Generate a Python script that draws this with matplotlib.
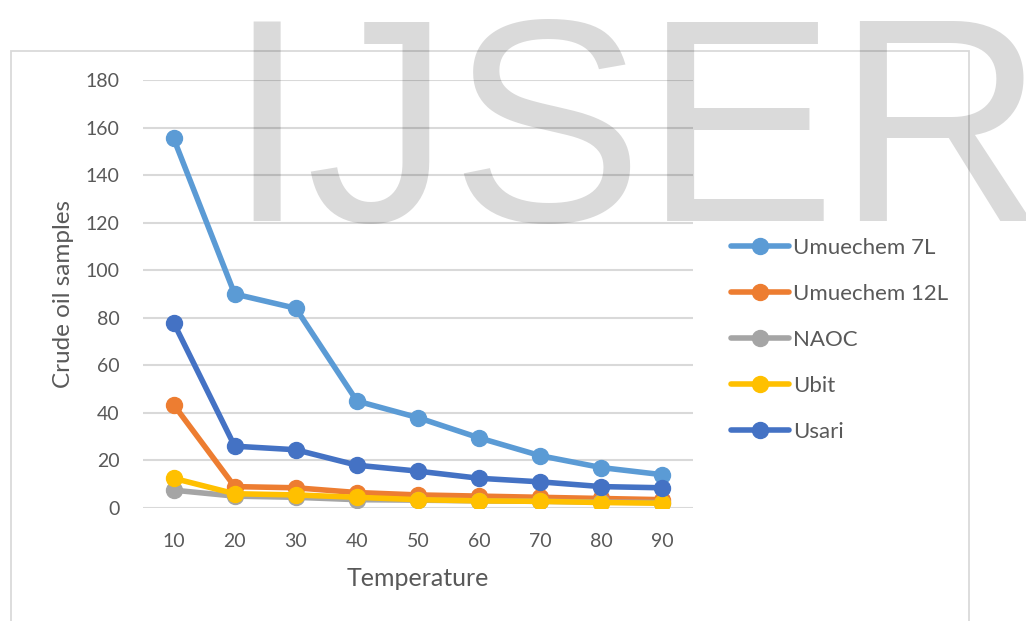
import matplotlib
matplotlib.use("Agg")
import matplotlib.pyplot as plt
from matplotlib.patches import Rectangle
import numpy as np

temperatures = [10, 20, 30, 40, 50, 60, 70, 80, 90]
umuechem_7l = [155.5, 90, 84, 45, 38, 29.5, 22, 17, 14]
umuechem_12l = [43.5, 9, 8.5, 6.5, 5.5, 5, 4.5, 4, 3.5]
naoc = [7.5, 5, 4.5, 3.5, 3.3, 3, 2.8, 2.5, 2.3]
ubit = [12.5, 6, 5.5, 4.5, 3.5, 3, 2.8, 2.3, 2]
usari = [78, 26, 24.5, 18, 15.5, 12.5, 11, 9, 8.5]

series_names = ["Umuechem 7L", "Umuechem 12L", "NAOC", "Ubit", "Usari"]
series_values = [umuechem_7l, umuechem_12l, naoc, ubit, usari]
series_colors = ["#5B9BD5", "#ED7D31", "#A5A5A5", "#FFC000", "#4472C4"]
y_ticks = [0, 20, 40, 60, 80, 100, 120, 140, 160, 180]

plt.rcParams['font.family'] = ['Lato', 'DejaVu Sans']
text_color = "#595959"

W, H = 1026, 621
fig = plt.figure(figsize=(W / 100, H / 100), dpi=100)
fig.patch.set_facecolor("white")

# watermark
fig.text(226 / W, 1 - 221 / H, "IJSER", family=["Liberation Sans"], fontsize=208,
         color="#dadada", ha="left", va="baseline", zorder=0)

# chart border
fig.patches.append(Rectangle((11 / W, -0.05), (969 - 11) / W, 1.05 - 51 / H,
                             transform=fig.transFigure, fill=False,
                             edgecolor="#000000", alpha=0.15, linewidth=1.3, zorder=0.5))

ax = fig.add_axes([143 / W, 1 - 508 / H, (693 - 143) / W, (508 - 80) / H], zorder=1)
ax.set_facecolor("none")

x = np.arange(len(temperatures))
for name, vals, col in zip(series_names, series_values, series_colors):
    ax.plot(x, vals, color=col, linewidth=4, marker="o", markersize=11.5,
            label=name, solid_capstyle="round", solid_joinstyle="round", zorder=3)

ax.set_xlim(-0.5, len(temperatures) - 0.5)
ax.set_ylim(0, 180)
ax.set_yticks(y_ticks)
ax.set_xticks(x)
ax.set_xticklabels([str(t) for t in temperatures])
for s in ax.spines.values():
    s.set_visible(False)
ax.tick_params(axis="both", length=0, labelsize=14, labelcolor=text_color)
ax.tick_params(axis="y", pad=17)
ax.tick_params(axis="x", pad=18)
ax.yaxis.grid(True, color="#000000", alpha=0.15, linewidth=1.5)
ax.xaxis.grid(False)
ax.set_axisbelow(True)
ax.set_xlabel("Temperature", fontsize=18, color=text_color, labelpad=12)
ax.set_ylabel("Crude oil samples", fontsize=17.5, color=text_color, labelpad=8)

leg = fig.legend(loc="upper left", bbox_to_anchor=(731 / W, 1 - 238 / H),
                 frameon=False, fontsize=16, handlelength=2.6, handletextpad=0.2,
                 labelspacing=1.17, borderpad=0, borderaxespad=0)
for t in leg.get_texts():
    t.set_color(text_color)

fig.savefig("out.png", dpi=100, facecolor="white")
